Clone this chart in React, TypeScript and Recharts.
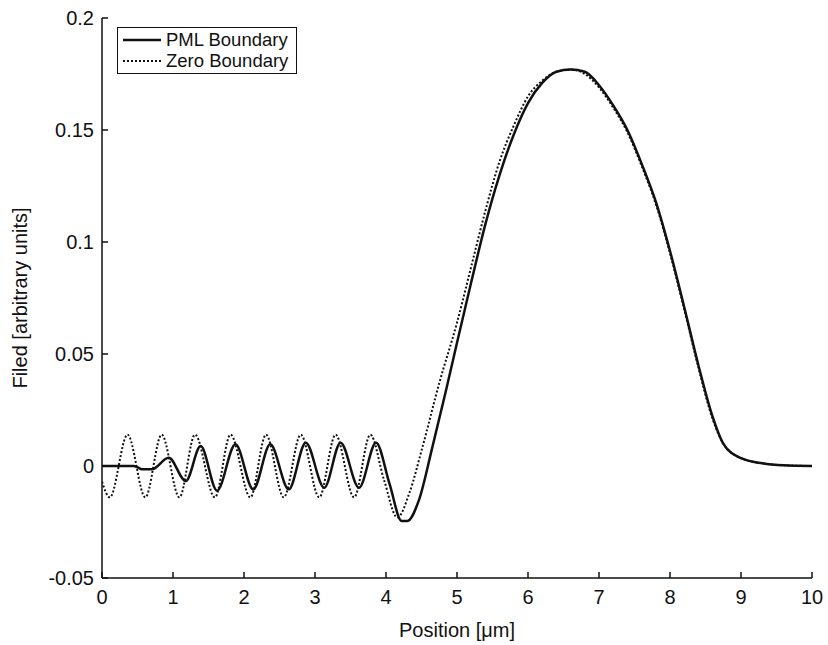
import { Line, LineChart, XAxis, YAxis } from "recharts";

// PML boundary (solid)
const pmlX = [
  0, 0.45, 0.57, 0.7, 0.94, 1.18, 1.39, 1.62, 1.88, 2.13, 2.37, 2.63, 2.87,
  3.13, 3.36, 3.62, 3.86, 4.05, 4.22, 4.3, 4.46, 4.65, 4.84, 5.0, 5.2, 5.4,
  5.6, 5.8, 6.0, 6.2, 6.4, 6.6, 6.8, 7.0, 7.2, 7.4, 7.6, 7.8, 8.0, 8.2, 8.4,
  8.6, 8.75, 9.0, 9.3, 9.6, 10,
];
const pmlY = [
  0, 0, -0.0015, -0.0015, 0.0037, -0.0067, 0.0089, -0.011, 0.0097, -0.0105,
  0.0097, -0.0104, 0.0104, -0.0097, 0.0104, -0.0097, 0.0104, -0.008, -0.0245,
  -0.0245, -0.0156, 0.008, 0.033, 0.055, 0.082, 0.108, 0.13, 0.148, 0.162,
  0.171, 0.176, 0.177, 0.176, 0.17, 0.161, 0.15, 0.135, 0.118, 0.096, 0.071,
  0.045, 0.022, 0.01, 0.0035, 0.0012, 0.0003, 0,
];

// zero boundary (dotted)
const zeroX = [
  0, 0.11, 0.36, 0.61, 0.84, 1.09, 1.31, 1.59, 1.81, 2.09, 2.31, 2.56, 2.8,
  3.06, 3.29, 3.55, 3.78, 3.97, 4.16, 4.33, 4.51, 4.75, 5.0, 5.2, 5.4, 5.6,
  5.8, 6.0, 6.2, 6.4, 6.6, 6.8, 7.0, 7.2, 7.4, 7.6, 7.8, 8.0, 8.2, 8.4, 8.6,
  8.75, 9.0, 9.3, 9.6, 10,
];
const zeroY = [
  -0.007, -0.014, 0.014, -0.014, 0.014, -0.014, 0.014, -0.014, 0.014, -0.014,
  0.014, -0.014, 0.014, -0.014, 0.014, -0.014, 0.014, -0.006, -0.023, -0.012,
  0.008, 0.037, 0.064, 0.089, 0.114, 0.136, 0.152, 0.165, 0.172, 0.176, 0.177,
  0.175, 0.169, 0.16, 0.149, 0.134, 0.117, 0.095, 0.07, 0.044, 0.021, 0.01,
  0.0035, 0.0012, 0.0003, 0,
];

const xTicks = [0, 1, 2, 3, 4, 5, 6, 7, 8, 9, 10];
const yTicks = [-0.05, 0, 0.05, 0.1, 0.15, 0.2];

const pmlData = pmlX.map((x, i) => ({ x, y: pmlY[i] }));
const zeroData = zeroX.map((x, i) => ({ x, y: zeroY[i] }));

const FONT = "'Liberation Sans', Arial, sans-serif";
const INK = "#111";

function LegendBox() {
  const row = { display: "flex", alignItems: "center", height: 21 };
  return (
    <div
      style={{
        position: "absolute",
        left: 117,
        top: 27,
        border: `1.5px solid ${INK}`,
        background: "#fff",
        padding: "1px 8px 2px 5px",
        fontFamily: FONT,
        fontSize: 18.5,
        color: INK,
        lineHeight: "21px",
      }}
    >
      <div style={row}>
        <svg width={38} height={6} style={{ marginRight: 5 }}>
          <line x1={0} y1={3} x2={38} y2={3} stroke={INK} strokeWidth={2.5} />
        </svg>
        PML Boundary
      </div>
      <div style={row}>
        <svg width={38} height={6} style={{ marginRight: 5 }}>
          <line
            x1={0}
            y1={3}
            x2={38}
            y2={3}
            stroke={INK}
            strokeWidth={2}
            strokeDasharray="2 2"
          />
        </svg>
        Zero Boundary
      </div>
    </div>
  );
}

export default function App() {
  const tickStyle = { fill: INK, fontSize: 20, fontFamily: FONT };
  const axisLine = { stroke: INK, strokeWidth: 1.5 };
  return (
    <div
      style={{
        position: "absolute",
        left: 0,
        top: 0,
        width: 828,
        height: 645,
        background: "#fff",
      }}
    >
      <LineChart
        width={828}
        height={645}
        margin={{ top: 18, right: 16, bottom: 0, left: 0 }}
      >
        <XAxis
          xAxisId="b"
          dataKey="x"
          type="number"
          domain={[0, 10]}
          ticks={xTicks}
          height={67}
          tick={tickStyle}
          tickSize={-6}
          tickMargin={18}
          tickLine={axisLine}
          axisLine={axisLine}
          allowDataOverflow
          label={{
            value: "Position [\u03bcm]",
            position: "insideBottom",
            offset: 8,
            style: { fill: INK, fontSize: 20, fontFamily: FONT },
          }}
        />
        <XAxis
          xAxisId="t"
          orientation="top"
          dataKey="x"
          type="number"
          domain={[0, 10]}
          ticks={xTicks}
          height={0}
          tick={false}
          tickSize={-6}
          tickLine={axisLine}
          axisLine={axisLine}
        />
        <YAxis
          yAxisId="l"
          type="number"
          domain={[-0.05, 0.2]}
          ticks={yTicks}
          width={102}
          tick={tickStyle}
          tickSize={-6}
          tickMargin={14}
          tickLine={axisLine}
          axisLine={axisLine}
          allowDataOverflow
          label={{
            value: "Filed [arbitrary units]",
            angle: -90,
            position: "insideLeft",
            offset: 20,
            style: {
              fill: INK,
              fontSize: 20,
              fontFamily: FONT,
              textAnchor: "middle",
            },
          }}
        />
        <YAxis
          yAxisId="r"
          orientation="right"
          type="number"
          domain={[-0.05, 0.2]}
          ticks={yTicks}
          width={0}
          tick={false}
          tickSize={-6}
          tickLine={axisLine}
          axisLine={axisLine}
        />
        <Line
          data={zeroData}
          xAxisId="b"
          yAxisId="l"
          dataKey="y"
          type="monotone"
          stroke={INK}
          strokeWidth={2}
          strokeDasharray="2 2"
          dot={false}
          isAnimationActive={false}
          name="Zero Boundary"
        />
        <Line
          data={pmlData}
          xAxisId="b"
          yAxisId="l"
          dataKey="y"
          type="monotone"
          stroke={INK}
          strokeWidth={2.5}
          dot={false}
          isAnimationActive={false}
          name="PML Boundary"
        />
      </LineChart>
      <LegendBox />
    </div>
  );
}
